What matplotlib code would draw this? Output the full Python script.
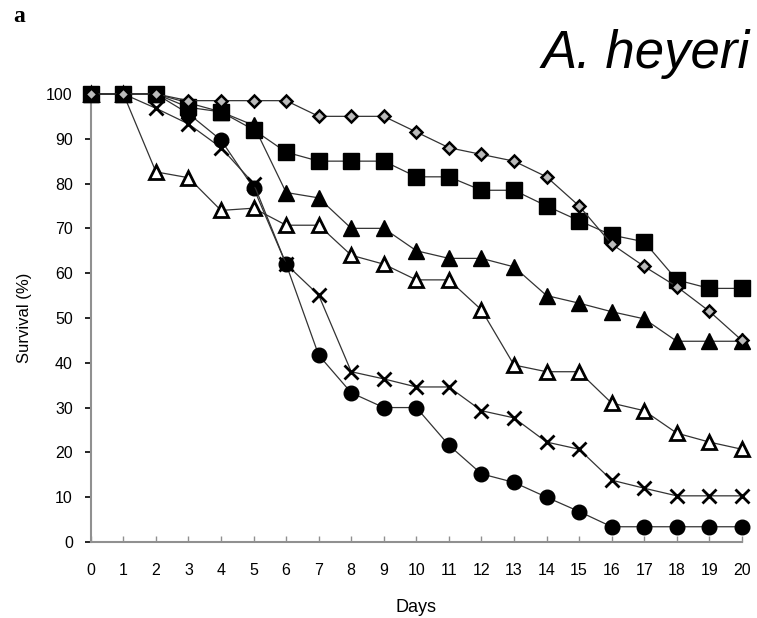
import matplotlib
matplotlib.use("Agg")
import matplotlib.pyplot as plt
from matplotlib import font_manager

days = list(range(21))

diamond_open = [100, 100, 100, 98.5, 98.5, 98.5, 98.5, 95, 95, 95, 91.5, 88, 86.5, 85, 81.5, 75, 66.5, 61.5, 57, 51.5, 45]
square_filled = [100, 100, 100, 97, 96, 92, 87, 85, 85, 85, 81.5, 81.5, 78.5, 78.5, 75, 71.7, 68.5, 67, 58.5, 56.6, 56.6]
triangle_filled = [100, 100, 100, 98, 96, 93, 78, 76.8, 70, 70, 65, 63.3, 63.3, 61.4, 55, 53.3, 51.4, 49.8, 44.8, 44.8, 44.8]
triangle_open = [100, 100, 82.6, 81.3, 74, 74.5, 70.7, 70.7, 64, 62, 58.5, 58.5, 51.8, 39.5, 38, 38, 31, 29.3, 24.3, 22.3, 20.7]
cross = [100, 100, 96.8, 93.3, 88, 80, 62, 55.1, 38, 36.4, 34.6, 34.6, 29.3, 27.7, 22.3, 20.7, 13.8, 12, 10.3, 10.3, 10.3]
circle_filled = [100, 100, 100, 95.6, 89.7, 79, 62, 41.7, 33.3, 30, 30, 21.6, 15.2, 13.3, 10, 6.8, 3.4, 3.4, 3.4, 3.4, 3.4]

names = [f.name for f in font_manager.fontManager.ttflist]
narrow = "Liberation Sans Narrow" if "Liberation Sans Narrow" in names else "Liberation Sans"

fig = plt.figure(figsize=(7.57, 6.18), dpi=100)
ax = fig.add_axes([0.120, 0.123, 0.860, 0.725])

line_kw = dict(color="#333333", linewidth=0.9, clip_on=False, zorder=3)

ax.plot(days, circle_filled, marker="o", markersize=10.5, markerfacecolor="black",
        markeredgecolor="black", **line_kw)
ax.plot(days, cross, marker="x", markersize=10, markeredgewidth=2.0,
        markeredgecolor="black", **line_kw)
ax.plot(days, triangle_open, marker="^", markersize=10, markerfacecolor="white",
        markeredgecolor="black", markeredgewidth=2.0, **line_kw)
ax.plot(days, triangle_filled, marker="^", markersize=11, markerfacecolor="black",
        markeredgecolor="black", **line_kw)
ax.plot(days, square_filled, marker="s", markersize=12, markerfacecolor="black",
        markeredgecolor="black", **line_kw)
ax.plot(days, diamond_open, marker="D", markersize=6, markerfacecolor="#bbbbbb",
        markeredgecolor="black", markeredgewidth=1.8, **line_kw)

ax.set_xlim(0, 20)
ax.set_ylim(0, 100)
ax.set_xticks(days)
ax.set_yticks(range(0, 101, 10))

for s in ["top", "right"]:
    ax.spines[s].set_visible(False)
for s in ["left", "bottom"]:
    ax.spines[s].set_color("#909090")
    ax.spines[s].set_linewidth(1.5)

ax.tick_params(axis="y", direction="out", length=4, width=1.2, color="black", pad=9)
ax.tick_params(axis="x", direction="in", length=4, width=1.0, color="#909090", pad=15)
for lab in ax.get_xticklabels() + ax.get_yticklabels():
    lab.set_fontfamily(narrow)
    lab.set_fontsize(11.5)

ax.set_xlabel("Days", fontfamily="Liberation Sans", fontsize=13, labelpad=15)
ax.set_ylabel("Survival (%)", fontfamily="Liberation Sans", fontsize=12, labelpad=10)

fig.text(0.99, 0.89, "A. heyeri", fontfamily="Liberation Sans", fontstyle="italic",
         fontsize=38, ha="right", va="baseline")
fig.text(0.018, 0.965, "a", fontfamily="Liberation Serif", fontweight="bold",
         fontsize=17, ha="left", va="baseline")

fig.savefig("out.png", dpi=100)
